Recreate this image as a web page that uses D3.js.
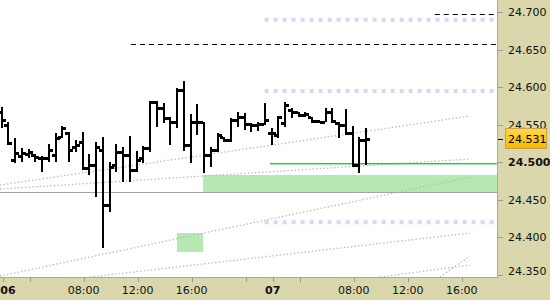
<!DOCTYPE html>
<html>
<head>
<meta charset="utf-8">
<script src="https://cdn.jsdelivr.net/npm/d3@7"></script>
<style>
  body { margin: 0; background: #fff; }
  svg { display: block; font-family: "DejaVu Sans", Verdana, sans-serif; }
</style>
</head>
<body>
<svg id="chart" width="550" height="300"></svg>
<script>
// 30 minute OHLC bars, day 06 02:00 -> day 07 09:00
var opens  = [24.567, 24.550, 24.503, 24.508, 24.511, 24.510, 24.506, 24.506, 24.510, 24.534,
              24.539, 24.520, 24.527, 24.492, 24.496, 24.516, 24.443, 24.496, 24.514, 24.510,
              24.490, 24.506, 24.519, 24.580, 24.572, 24.559, 24.554, 24.596, 24.523, 24.554,
              24.554, 24.510, 24.516, 24.534, 24.530, 24.556, 24.560, 24.551, 24.550, 24.551,
              24.539, 24.536, 24.552, 24.570, 24.567, 24.563, 24.560, 24.555, 24.554, 24.567,
              24.552, 24.550, 24.539, 24.496, 24.530];
var highs  = [24.574, 24.554, 24.532, 24.519, 24.518, 24.511, 24.508, 24.524, 24.539, 24.548,
              24.540, 24.530, 24.540, 24.511, 24.527, 24.534, 24.500, 24.524, 24.520, 24.535,
              24.515, 24.522, 24.582, 24.582, 24.579, 24.560, 24.599, 24.608, 24.564, 24.578,
              24.554, 24.520, 24.539, 24.534, 24.559, 24.567, 24.566, 24.552, 24.554, 24.579,
              24.546, 24.562, 24.580, 24.572, 24.567, 24.567, 24.560, 24.556, 24.572, 24.572,
              24.554, 24.571, 24.548, 24.534, 24.546];
var lows   = [24.546, 24.523, 24.499, 24.500, 24.506, 24.500, 24.487, 24.500, 24.500, 24.532,
              24.500, 24.514, 24.490, 24.483, 24.454, 24.386, 24.434, 24.487, 24.474, 24.474,
              24.487, 24.499, 24.514, 24.547, 24.552, 24.523, 24.546, 24.515, 24.499, 24.536,
              24.486, 24.494, 24.514, 24.527, 24.527, 24.547, 24.543, 24.540, 24.542, 24.550,
              24.523, 24.532, 24.547, 24.559, 24.560, 24.560, 24.552, 24.552, 24.554, 24.552,
              24.532, 24.536, 24.494, 24.486, 24.496];
var closes = [24.556, 24.526, 24.512, 24.512, 24.514, 24.507, 24.506, 24.516, 24.532, 24.546,
              24.516, 24.523, 24.492, 24.496, 24.520, 24.443, 24.494, 24.514, 24.510, 24.490,
              24.503, 24.519, 24.580, 24.572, 24.559, 24.554, 24.596, 24.523, 24.554, 24.554,
              24.510, 24.516, 24.536, 24.530, 24.556, 24.560, 24.551, 24.550, 24.551, 24.556,
              24.539, 24.560, 24.576, 24.567, 24.563, 24.564, 24.555, 24.554, 24.567, 24.555,
              24.550, 24.539, 24.496, 24.530, 24.531];

var lastPrice = 24.531;
var boldLevel = 24.500;
var priceTicks = [24.350, 24.400, 24.450, 24.500, 24.550, 24.600, 24.650, 24.700];

// time axis: trading session 02:00-22:00, x measured in session hours
var timeTicks  = [[6, 2], [6, 4], [6, 8], [6, 12], [6, 16], [6, 20],
                  [7, 2], [7, 4], [7, 8], [7, 12], [7, 16]];
var timeLabels = ["06", "", "08:00", "12:00", "16:00", "",
                  "07", "", "08:00", "12:00", "16:00"];

// overlay levels: [price, from day, from hour]
var dashedLevels = [[24.698, 7, 14.0], [24.658, 6, 11.5]];
var pinkLevels   = [[24.690, 6, 21.4], [24.595, 6, 21.4], [24.420, 6, 21.4]];
var greenLevel   = [24.499, 6, 21.8];
var grayLevel    = 24.4604;
// zones: [day, hour from, day, hour to, price top, price bottom]
var zones = [[6, 16.8, 7, 19.0, 24.483, 24.460],
             [6, 14.9, 6, 16.8, 24.406, 24.381]];
// dotted trend lines: [[day, hour, price], [day, hour, price]]
var trendLines = [
  [[6, 1.8, 24.4697], [7, 16.6, 24.5617]],
  [[6, 1.8, 24.4644], [7, 16.6, 24.5044]],
  [[6, 1.8, 24.3484], [7, 16.6, 24.4804]],
  [[6, 8.47, 24.3471], [7, 16.6, 24.4057]],
  [[7, 9.96, 24.3471], [7, 16.6, 24.3631]],
  [[7, 14.4, 24.3471], [7, 16.6, 24.3751]]
];

var W = 550, H = 300, plotW = 497, plotH = 277;
var axisBg = "#d9d7ab";

function session(day, hour) {
  return (day - 6) * 20 + (hour - 2);
}

var x = d3.scaleLinear().domain([-0.2, 36.61]).range([0, plotW]);
var y = d3.scaleLinear().domain([24.3471, 24.7164]).range([plotH, 0]);

var svg = d3.select("#chart");

// axis backgrounds
svg.append("rect").attr("x", 0).attr("y", 0).attr("width", W).attr("height", H).attr("fill", axisBg);
svg.append("rect").attr("x", 0).attr("y", 0).attr("width", plotW).attr("height", plotH).attr("fill", "#fff");

svg.append("clipPath").attr("id", "plotclip")
  .append("rect").attr("width", plotW).attr("height", plotH);

var plot = svg.append("g").attr("clip-path", "url(#plotclip)");

// zones
plot.selectAll(".zone").data(zones).enter().append("rect")
  .attr("class", "zone")
  .attr("x", d => Math.round(x(session(d[0], d[1]))))
  .attr("width", d => Math.round(x(session(d[2], d[3])) - x(session(d[0], d[1]))))
  .attr("y", d => Math.round(y(d[4])))
  .attr("height", d => Math.round(y(d[5]) - y(d[4])))
  .attr("fill", "#b6e8b2");

// gray horizontal
plot.append("line")
  .attr("x1", 0).attr("x2", plotW)
  .attr("y1", Math.round(y(grayLevel)) + 0.5).attr("y2", Math.round(y(grayLevel)) + 0.5)
  .attr("stroke", "#a4a4a4");

// dotted trend lines
plot.selectAll(".trend").data(trendLines).enter().append("line")
  .attr("class", "trend")
  .attr("x1", d => x(session(d[0][0], d[0][1])))
  .attr("y1", d => y(d[0][2]))
  .attr("x2", d => x(session(d[1][0], d[1][1])))
  .attr("y2", d => y(d[1][2]))
  .attr("stroke", "#b4b4b4")
  .attr("stroke-width", 1.3)
  .attr("stroke-dasharray", "1.3,2.3");

// pink levels
plot.selectAll(".pink").data(pinkLevels).enter().append("line")
  .attr("class", "pink")
  .attr("x1", d => x(session(d[1], d[2]))).attr("x2", plotW)
  .attr("y1", d => y(d[0])).attr("y2", d => y(d[0]))
  .attr("stroke", "#e4d2f2")
  .attr("stroke-width", 4)
  .attr("stroke-dasharray", "4,5");

// dashed black levels
plot.selectAll(".dashed").data(dashedLevels).enter().append("line")
  .attr("class", "dashed")
  .attr("x1", d => x(session(d[1], d[2]))).attr("x2", plotW)
  .attr("y1", d => Math.round(y(d[0])) + 0.5).attr("y2", d => Math.round(y(d[0])) + 0.5)
  .attr("stroke", "#000")
  .attr("stroke-dasharray", "5,4");

// green level
plot.append("rect")
  .attr("x", Math.round(x(session(greenLevel[1], greenLevel[2]))))
  .attr("width", plotW)
  .attr("y", Math.round(y(greenLevel[0])))
  .attr("height", 1.4)
  .attr("fill", "#1ed01e");

// OHLC bars
var bars = plot.selectAll(".bar").data(opens).enter().append("g").attr("class", "bar");
bars.each(function(o, i) {
  var g = d3.select(this);
  var cx = Math.round(x(i * 0.5)) - 2;
  var yh = Math.round(y(highs[i])), yl = Math.round(y(lows[i]));
  g.append("rect").attr("x", cx).attr("y", yh).attr("width", 2).attr("height", Math.max(2, yl - yh)).attr("fill", "#000");
  g.append("rect").attr("x", cx - 3).attr("y", Math.round(y(o)) - 1).attr("width", 3).attr("height", 3).attr("fill", "#000");
  g.append("rect").attr("x", cx + 2).attr("y", Math.round(y(closes[i])) - 1).attr("width", 3).attr("height", 3).attr("fill", "#000");
});

// plot borders
svg.append("line").attr("x1", plotW + 0.5).attr("x2", plotW + 0.5).attr("y1", 0).attr("y2", plotH + 1)
  .attr("stroke", "#a8a8a8");
svg.append("line").attr("x1", 0).attr("x2", plotW + 1).attr("y1", plotH + 0.5).attr("y2", plotH + 0.5)
  .attr("stroke", "#a8a8a8");

// right price axis
var yAxis = svg.append("g").attr("class", "y-axis");
yAxis.selectAll("line").data(priceTicks).enter().append("line")
  .attr("x1", plotW + 1).attr("x2", plotW + 6)
  .attr("y1", d => Math.round(y(d)) + 0.5).attr("y2", d => Math.round(y(d)) + 0.5)
  .attr("stroke", "#9a9a9a");
yAxis.selectAll("text").data(priceTicks).enter().append("text")
  .attr("x", 508)
  .attr("y", d => Math.min(y(d), 271))
  .attr("dy", "0.36em")
  .style("font-size", "11px")
  .style("font-weight", d => d === boldLevel ? "bold" : "normal")
  .attr("fill", "#111")
  .text(d => d3.format(".3f")(d));

// last price box
var ly = y(lastPrice);
svg.append("line").attr("x1", plotW + 1).attr("x2", plotW + 6)
  .attr("y1", Math.round(ly) + 0.5).attr("y2", Math.round(ly) + 0.5).attr("stroke", "#000");
var grad = svg.append("defs").append("linearGradient").attr("id", "lastgrad")
  .attr("x1", 0).attr("x2", 0).attr("y1", 0).attr("y2", 1);
grad.append("stop").attr("offset", "0%").attr("stop-color", "#ffd84a");
grad.append("stop").attr("offset", "100%").attr("stop-color", "#f5b800");
svg.append("rect")
  .attr("x", 505.5).attr("y", Math.round(ly) - 10.5)
  .attr("width", 41).attr("height", 20)
  .attr("fill", "url(#lastgrad)").attr("stroke", "#c9a24a");
svg.append("text")
  .attr("x", 508).attr("y", ly).attr("dy", "0.36em")
  .style("font-size", "11px").attr("fill", "#000")
  .text(d3.format(".3f")(lastPrice));

// bottom time axis
var xAxis = svg.append("g").attr("class", "x-axis");
xAxis.selectAll("line").data(timeTicks).enter().append("line")
  .attr("x1", d => Math.round(x(session(d[0], d[1]))) + 0.5)
  .attr("x2", d => Math.round(x(session(d[0], d[1]))) + 0.5)
  .attr("y1", plotH + 1).attr("y2", plotH + 5)
  .attr("stroke", "#9a9a9a");
xAxis.selectAll("text").data(timeTicks).enter().append("text")
  .attr("x", d => Math.max(x(session(d[0], d[1])), 8))
  .attr("y", 294)
  .attr("text-anchor", "middle")
  .style("font-size", "11px")
  .style("font-weight", (d, i) => timeLabels[i].indexOf(":") < 0 ? "bold" : "normal")
  .attr("fill", "#111")
  .text((d, i) => timeLabels[i]);
</script>
</body>
</html>
